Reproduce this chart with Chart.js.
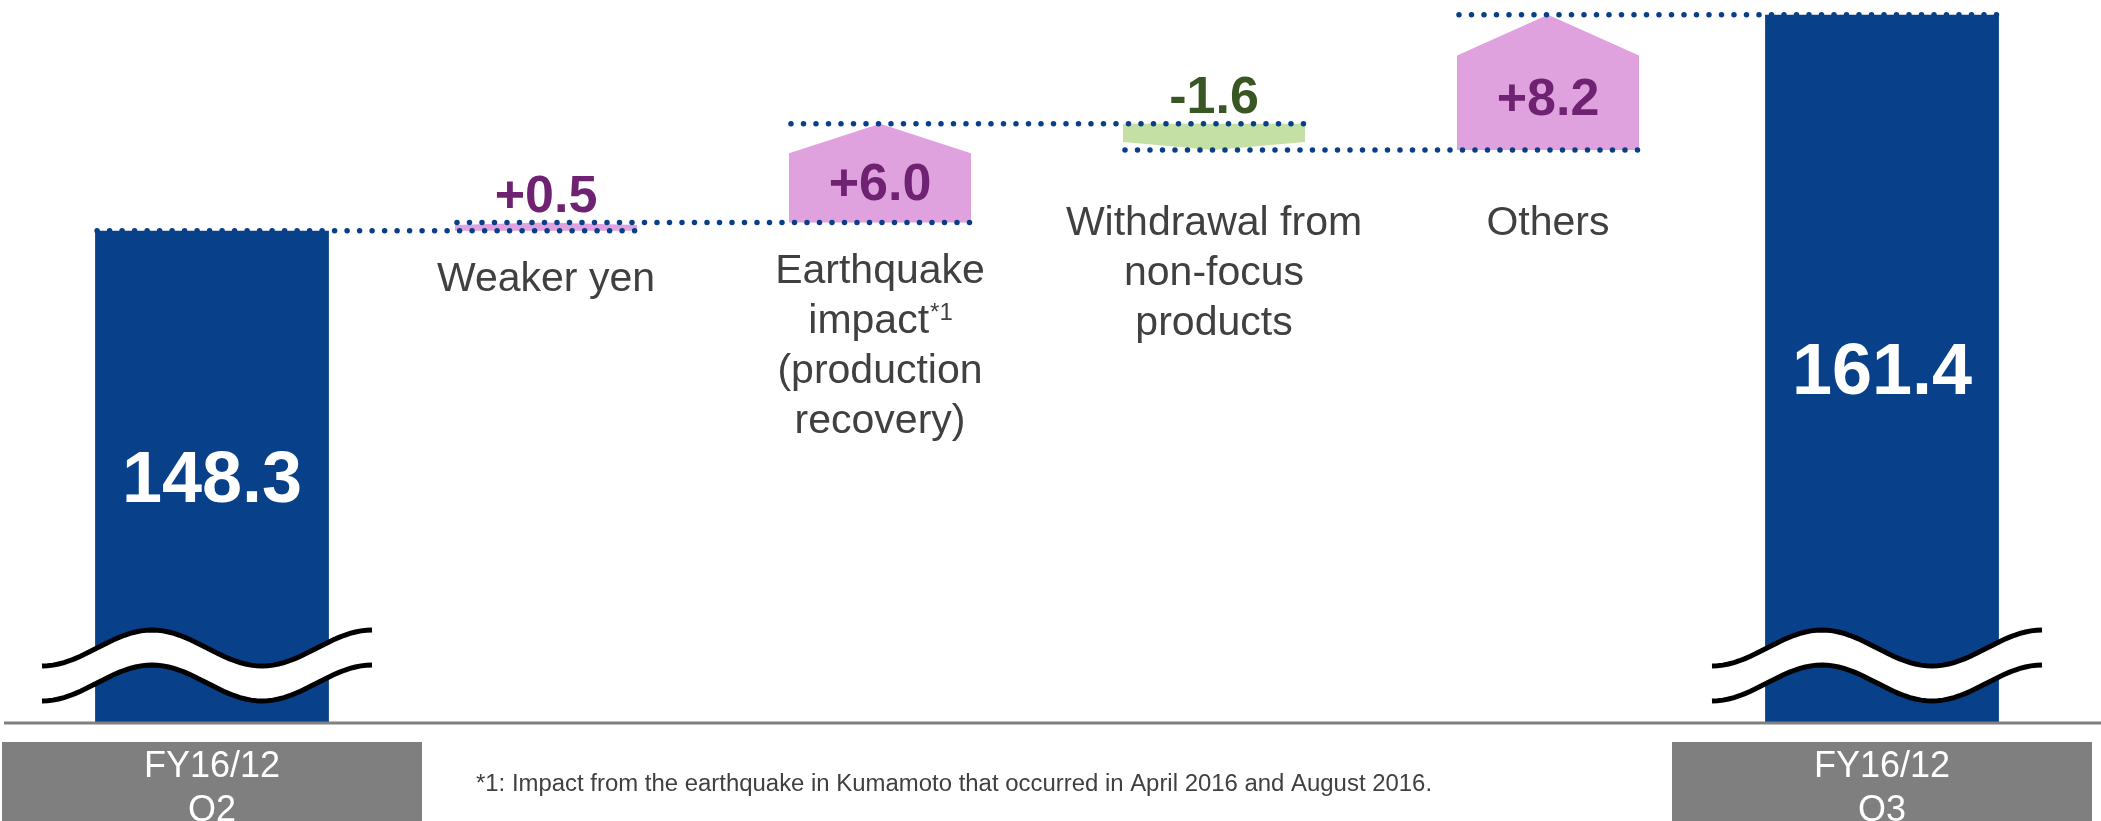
<!DOCTYPE html>
<html>
<head>
<meta charset="utf-8">
<script src="https://cdn.jsdelivr.net/npm/chart.js@4.4.1/dist/chart.umd.min.js"></script>
<style>
  html, body { margin: 0; padding: 0; background: #fff; }
  #wrap { width: 2101px; height: 821px; position: relative; }
</style>
</head>
<body>
<div id="wrap"><canvas id="bridge"></canvas></div>
<script>
// data
const categories = ['FY16/12 Q2', 'Weaker yen', 'Earthquake impact (production recovery)', 'Withdrawal from non-focus products', 'Others', 'FY16/12 Q3'];
const categoryLines = [['FY16/12', 'Q2'], ['Weaker yen'], ['Earthquake', 'impact*1', '(production', 'recovery)'], ['Withdrawal from', 'non-focus', 'products'], ['Others'], ['FY16/12', 'Q3']];
const startTotal = 148.3;
const changeValues = [0.5, 6.0, -1.6, 8.2];
const endTotal = 161.4;
const footnote = '*1: Impact from the earthquake in Kumamoto that occurred in April 2016 and August 2016.';

const Y_MIN = 118.5, Y_MAX = 162.3;
const FONT = '"Liberation Sans", Arial, sans-serif';
const BLUE = '#084189', DOT = '#093f88';
const PINK = '#e0a2de', GREEN = '#c4e0a5';
const PURPLE = '#6f2271', DKGREEN = '#385723';
const TEXT = '#404040', GREY = '#7f7f7f';

// floating ranges built from the values
let level = startTotal;
const changeRanges = [null];
const levels = [startTotal];
changeValues.forEach(v => {
  const next = +(level + v).toFixed(1);
  changeRanges.push([level, next]);
  level = next;
  levels.push(level);
});
changeRanges.push(null);
const totalRanges = [[Y_MIN, startTotal], null, null, null, null, [Y_MIN, endTotal]];

function barAt(chart, i) {
  const ds = (i === 0 || i === categories.length - 1) ? 0 : 1;
  return chart.getDatasetMeta(ds).data[i];
}

function dotted(ctx, x1, x2, y) {
  ctx.save();
  ctx.strokeStyle = DOT;
  ctx.lineWidth = 5.5;
  ctx.lineCap = 'round';
  ctx.setLineDash([0, 12.5]);
  ctx.beginPath();
  ctx.moveTo(x1, y);
  ctx.lineTo(x2, y);
  ctx.stroke();
  ctx.restore();
}

function wavePath(ctx, x0, w, mid, amp, reverse) {
  const n = 60;
  for (let k = 0; k <= n; k++) {
    const t = reverse ? 1 - k / n : k / n;
    const y = mid - amp * Math.sin(3 * Math.PI * (t - 1 / 6));
    if (k === 0 && !reverse) ctx.moveTo(x0 + t * w, y);
    else ctx.lineTo(x0 + t * w, y);
  }
}

const bridgePlugin = {
  id: 'bridge',
  beforeDatasetDraw(chart, args) {
    if (args.index !== 1) return;
    const ctx = chart.ctx;
    args.meta.data.forEach((bar, i) => {
      const r = changeRanges[i];
      if (!r) return;
      const up = r[1] > r[0];
      const top = Math.min(bar.y, bar.base), bottom = Math.max(bar.y, bar.base);
      const half = bar.width / 2, head = (bottom - top) * 0.3, x = bar.x;
      ctx.save();
      ctx.fillStyle = up ? PINK : GREEN;
      ctx.beginPath();
      if (up) {
        ctx.moveTo(x - half, bottom);
        ctx.lineTo(x - half, top + head);
        ctx.lineTo(x, top);
        ctx.lineTo(x + half, top + head);
        ctx.lineTo(x + half, bottom);
      } else {
        ctx.moveTo(x - half, top);
        ctx.lineTo(x + half, top);
        ctx.lineTo(x + half, bottom - head);
        ctx.lineTo(x, bottom);
        ctx.lineTo(x - half, bottom - head);
      }
      ctx.closePath();
      ctx.fill();
      ctx.restore();
    });
    return false;
  },
  afterDatasetsDraw(chart) {
    const ctx = chart.ctx;
    const area = chart.chartArea;
    const y = chart.scales.y;
    const W = chart.width;

    // baseline
    ctx.save();
    ctx.strokeStyle = '#808080';
    ctx.lineWidth = 3;
    ctx.beginPath();
    ctx.moveTo(4, area.bottom + 1);
    ctx.lineTo(W, area.bottom + 1);
    ctx.stroke();
    ctx.restore();

    // break marks on the totals
    [0, categories.length - 1].forEach(i => {
      const bar = barAt(chart, i);
      const x0 = bar.x - 170, w = 330, mid = area.bottom - 74, amp = 18, gap = 35;
      ctx.save();
      ctx.fillStyle = '#fff';
      ctx.beginPath();
      wavePath(ctx, x0, w, mid, amp, false);
      wavePath(ctx, x0, w, mid + gap, amp, true);
      ctx.closePath();
      ctx.fill();
      ctx.strokeStyle = '#000';
      ctx.lineWidth = 5;
      ctx.beginPath();
      wavePath(ctx, x0, w, mid, amp, false);
      ctx.stroke();
      ctx.beginPath();
      wavePath(ctx, x0, w, mid + gap, amp, false);
      ctx.stroke();
      ctx.restore();
    });

    // connectors
    levels.forEach((lv, i) => {
      const a = barAt(chart, i), b = barAt(chart, i + 1);
      dotted(ctx, a.x - a.width / 2 + 2, b.x + b.width / 2, y.getPixelForValue(lv));
    });

    ctx.save();
    ctx.textAlign = 'center';
    ctx.textBaseline = 'alphabetic';

    // totals
    [[0, startTotal], [categories.length - 1, endTotal]].forEach(([i, v]) => {
      const bar = barAt(chart, i);
      const mid = (bar.y + area.bottom) / 2;
      ctx.fillStyle = '#fff';
      ctx.font = 'bold 72px ' + FONT;
      ctx.fillText(v.toFixed(1), bar.x, mid + 26);
    });

    // change labels and category names
    changeValues.forEach((v, k) => {
      const i = k + 1;
      const bar = barAt(chart, i);
      const top = Math.min(bar.y, bar.base), bottom = Math.max(bar.y, bar.base);
      const h = bottom - top;
      const txt = (v > 0 ? '+' : '') + v.toFixed(1);
      let cy;
      if (h > 60) {
        const shoulder = top + h * 0.3;
        cy = (shoulder + bottom) / 2 - 7;
      } else {
        cy = top - 30;
      }
      ctx.font = 'bold 52px ' + FONT;
      ctx.fillStyle = v > 0 ? PURPLE : DKGREEN;
      ctx.fillText(txt, bar.x, cy + 19);

      ctx.fillStyle = TEXT;
      let base = Math.max(bottom + 60, 235);
      categoryLines[i].forEach(line => {
        const m = line.match(/^(.*?)(\*\d+)$/);
        if (m) {
          ctx.font = '41px ' + FONT;
          const w1 = ctx.measureText(m[1]).width;
          ctx.font = '24px ' + FONT;
          const w2 = ctx.measureText(m[2]).width;
          const left = bar.x - (w1 + w2) / 2;
          ctx.textAlign = 'left';
          ctx.font = '41px ' + FONT;
          ctx.fillText(m[1], left, base);
          ctx.font = '24px ' + FONT;
          ctx.fillText(m[2], left + w1 + 1, base - 13);
          ctx.textAlign = 'center';
        } else {
          ctx.font = '41px ' + FONT;
          ctx.fillText(line, bar.x, base);
        }
        base += 50;
      });
    });

    // period boxes under the totals
    [0, categories.length - 1].forEach(i => {
      const bar = barAt(chart, i);
      ctx.fillStyle = GREY;
      ctx.fillRect(bar.x - 210, area.bottom + 20, 420, 120);
      ctx.fillStyle = '#fff';
      ctx.font = '36px ' + FONT;
      ctx.fillText(categoryLines[i][0], bar.x, area.bottom + 55);
      ctx.fillText(categoryLines[i][1], bar.x, area.bottom + 99);
    });

    // footnote (slightly wide, as in the slide)
    ctx.textAlign = 'left';
    ctx.fillStyle = TEXT;
    ctx.font = '23px ' + FONT;
    ctx.translate(476, area.bottom + 69);
    ctx.scale(1.04, 1);
    ctx.fillText(footnote, 0, 0);
    ctx.restore();
  }
};

new Chart(document.getElementById('bridge'), {
  type: 'bar',
  data: {
    labels: categories,
    datasets: [
      { label: 'Total', data: totalRanges, backgroundColor: BLUE, barPercentage: 0.70, categoryPercentage: 1, grouped: false },
      { label: 'Change', data: changeRanges, backgroundColor: PINK, barPercentage: 0.545, categoryPercentage: 1, grouped: false }
    ]
  },
  options: {
    responsive: true,
    maintainAspectRatio: false,
    animation: false,
    layout: { padding: { left: 45, right: 52, top: 0, bottom: 99 } },
    plugins: { legend: { display: false }, tooltip: { enabled: false } },
    scales: {
      x: { display: false },
      y: { display: false, min: Y_MIN, max: Y_MAX }
    }
  },
  plugins: [bridgePlugin]
});
</script>
</body>
</html>
